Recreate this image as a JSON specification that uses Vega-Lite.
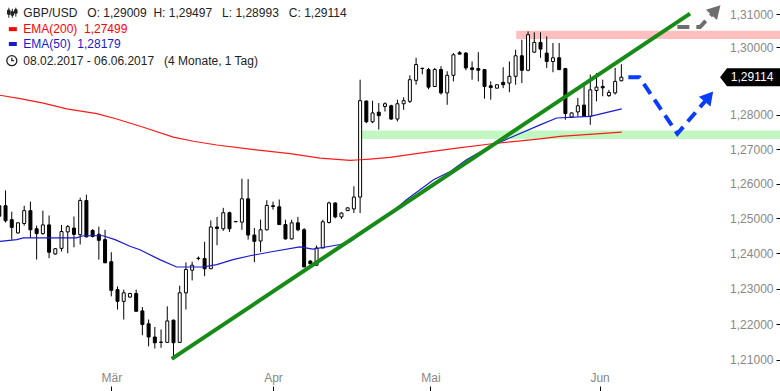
{
  "$schema": "https://vega.github.io/schema/vega-lite/v6.json",
  "width": 780,
  "height": 391,
  "padding": 0,
  "autosize": {"type": "none"},
  "background": "white",
  "config": {"view": {"stroke": null}, "font": "Liberation Sans"},
  "datasets": {
    "ohlc": [
      {"i":0,"o":1.2536,"h":1.2545,"l":1.2499,"c":1.2506},
      {"i":1,"o":1.2536,"h":1.2580,"l":1.2488,"c":1.2493},
      {"i":2,"o":1.2496,"h":1.2519,"l":1.2439,"c":1.2474},
      {"i":3,"o":1.2458,"h":1.2488,"l":1.2456,"c":1.2487},
      {"i":4,"o":1.2485,"h":1.2536,"l":1.2479,"c":1.2522},
      {"i":5,"o":1.2522,"h":1.2548,"l":1.2444,"c":1.2467},
      {"i":6,"o":1.2470,"h":1.2479,"l":1.2382,"c":1.2456},
      {"i":7,"o":1.2456,"h":1.2522,"l":1.2453,"c":1.2481},
      {"i":8,"o":1.2481,"h":1.2508,"l":1.2386,"c":1.2403},
      {"i":9,"o":1.2398,"h":1.2415,"l":1.2396,"c":1.2413},
      {"i":10,"o":1.2414,"h":1.2481,"l":1.2405,"c":1.2462},
      {"i":11,"o":1.2461,"h":1.2481,"l":1.2400,"c":1.2476},
      {"i":12,"o":1.2472,"h":1.2505,"l":1.2417,"c":1.2454},
      {"i":13,"o":1.2453,"h":1.2559,"l":1.2425,"c":1.2551},
      {"i":14,"o":1.2551,"h":1.2568,"l":1.2445,"c":1.2447},
      {"i":15,"o":1.2465,"h":1.2469,"l":1.2445,"c":1.2448},
      {"i":16,"o":1.2454,"h":1.2476,"l":1.2382,"c":1.2437},
      {"i":17,"o":1.2439,"h":1.2467,"l":1.2372,"c":1.2373},
      {"i":18,"o":1.2376,"h":1.2403,"l":1.2278,"c":1.2295},
      {"i":19,"o":1.2297,"h":1.2306,"l":1.2241,"c":1.2264},
      {"i":20,"o":1.2264,"h":1.2297,"l":1.2213,"c":1.2288},
      {"i":21,"o":1.2276,"h":1.2288,"l":1.2274,"c":1.2286},
      {"i":22,"o":1.2286,"h":1.2297,"l":1.2236,"c":1.2236},
      {"i":23,"o":1.2237,"h":1.2248,"l":1.2169,"c":1.2199},
      {"i":24,"o":1.2201,"h":1.2213,"l":1.2138,"c":1.2164},
      {"i":25,"o":1.2164,"h":1.2192,"l":1.2132,"c":1.2148},
      {"i":26,"o":1.2150,"h":1.2185,"l":1.2134,"c":1.2149},
      {"i":27,"o":1.2149,"h":1.2250,"l":1.2148,"c":1.2209},
      {"i":28,"o":1.2211,"h":1.2213,"l":1.2101,"c":1.2148},
      {"i":29,"o":1.2149,"h":1.2308,"l":1.2148,"c":1.2288},
      {"i":30,"o":1.2288,"h":1.2374,"l":1.2241,"c":1.2354},
      {"i":31,"o":1.2352,"h":1.2376,"l":1.2323,"c":1.2366},
      {"i":32,"o":1.2386,"h":1.2391,"l":1.2380,"c":1.2385},
      {"i":33,"o":1.2385,"h":1.2433,"l":1.2335,"c":1.2356},
      {"i":34,"o":1.2356,"h":1.2494,"l":1.2356,"c":1.2475},
      {"i":35,"o":1.2475,"h":1.2504,"l":1.2423,"c":1.2471},
      {"i":36,"o":1.2470,"h":1.2530,"l":1.2464,"c":1.2516},
      {"i":37,"o":1.2516,"h":1.2519,"l":1.2461,"c":1.2470},
      {"i":38,"o":1.2491,"h":1.2492,"l":1.2489,"c":1.2490},
      {"i":39,"o":1.2489,"h":1.2614,"l":1.2467,"c":1.2556},
      {"i":40,"o":1.2556,"h":1.2613,"l":1.2439,"c":1.2452},
      {"i":41,"o":1.2452,"h":1.2472,"l":1.2375,"c":1.2434},
      {"i":42,"o":1.2435,"h":1.2496,"l":1.2404,"c":1.2467},
      {"i":43,"o":1.2467,"h":1.2552,"l":1.2465,"c":1.2537},
      {"i":44,"o":1.2536,"h":1.2548,"l":1.2525,"c":1.2534},
      {"i":45,"o":1.2533,"h":1.2554,"l":1.2482,"c":1.2482},
      {"i":46,"o":1.2482,"h":1.2496,"l":1.2439,"c":1.2441},
      {"i":47,"o":1.2441,"h":1.2496,"l":1.2439,"c":1.2487},
      {"i":48,"o":1.2487,"h":1.2504,"l":1.2463,"c":1.2467},
      {"i":49,"o":1.2467,"h":1.2472,"l":1.2361,"c":1.2361},
      {"i":50,"o":1.2378,"h":1.2380,"l":1.2368,"c":1.2370},
      {"i":51,"o":1.2366,"h":1.2422,"l":1.2365,"c":1.2415},
      {"i":52,"o":1.2415,"h":1.2496,"l":1.2415,"c":1.2490},
      {"i":53,"o":1.2488,"h":1.2548,"l":1.2485,"c":1.2544},
      {"i":54,"o":1.2544,"h":1.2546,"l":1.2500,"c":1.2504},
      {"i":55,"o":1.2504,"h":1.2517,"l":1.2498,"c":1.2515},
      {"i":56,"o":1.2522,"h":1.2531,"l":1.2521,"c":1.2530},
      {"i":57,"o":1.2527,"h":1.2592,"l":1.2515,"c":1.2561},
      {"i":58,"o":1.2561,"h":1.2904,"l":1.2515,"c":1.2842},
      {"i":59,"o":1.2841,"h":1.2842,"l":1.2776,"c":1.2780},
      {"i":60,"o":1.2780,"h":1.2842,"l":1.2776,"c":1.2806},
      {"i":61,"o":1.2808,"h":1.2835,"l":1.2757,"c":1.2798},
      {"i":62,"o":1.2825,"h":1.2837,"l":1.2810,"c":1.2833},
      {"i":63,"o":1.2827,"h":1.2830,"l":1.2786,"c":1.2788},
      {"i":64,"o":1.2788,"h":1.2845,"l":1.2781,"c":1.2833},
      {"i":65,"o":1.2833,"h":1.2852,"l":1.2815,"c":1.2842},
      {"i":66,"o":1.2840,"h":1.2917,"l":1.2835,"c":1.2904},
      {"i":67,"o":1.2902,"h":1.2969,"l":1.2889,"c":1.2949},
      {"i":68,"o":1.2938,"h":1.2939,"l":1.2920,"c":1.2937},
      {"i":69,"o":1.2934,"h":1.2939,"l":1.2876,"c":1.2882},
      {"i":70,"o":1.2884,"h":1.2939,"l":1.2882,"c":1.2934},
      {"i":71,"o":1.2934,"h":1.2944,"l":1.2860,"c":1.2865},
      {"i":72,"o":1.2865,"h":1.2929,"l":1.2830,"c":1.2917},
      {"i":73,"o":1.2917,"h":1.2983,"l":1.2899,"c":1.2978},
      {"i":74,"o":1.2984,"h":1.2989,"l":1.2979,"c":1.2980},
      {"i":75,"o":1.2983,"h":1.2986,"l":1.2932,"c":1.2939},
      {"i":76,"o":1.2939,"h":1.2958,"l":1.2904,"c":1.2934},
      {"i":77,"o":1.2937,"h":1.2986,"l":1.2899,"c":1.2932},
      {"i":78,"o":1.2934,"h":1.2935,"l":1.2848,"c":1.2884},
      {"i":79,"o":1.2886,"h":1.2899,"l":1.2845,"c":1.2881},
      {"i":80,"o":1.2879,"h":1.2890,"l":1.2878,"c":1.2889},
      {"i":81,"o":1.2896,"h":1.2941,"l":1.2879,"c":1.2889},
      {"i":82,"o":1.2894,"h":1.2958,"l":1.2867,"c":1.2914},
      {"i":83,"o":1.2914,"h":1.2993,"l":1.2889,"c":1.2975},
      {"i":84,"o":1.2975,"h":1.3023,"l":1.2894,"c":1.2932},
      {"i":85,"o":1.2932,"h":1.3048,"l":1.2929,"c":1.3038},
      {"i":86,"o":1.2986,"h":1.3045,"l":1.2983,"c":1.3015},
      {"i":87,"o":1.3015,"h":1.3045,"l":1.2969,"c":1.2995},
      {"i":88,"o":1.2983,"h":1.3033,"l":1.2939,"c":1.2958},
      {"i":89,"o":1.2958,"h":1.3013,"l":1.2926,"c":1.2969},
      {"i":90,"o":1.2969,"h":1.3013,"l":1.2932,"c":1.2934},
      {"i":91,"o":1.2937,"h":1.2939,"l":1.2786,"c":1.2804},
      {"i":92,"o":1.2794,"h":1.2807,"l":1.2791,"c":1.2806},
      {"i":93,"o":1.2809,"h":1.2850,"l":1.2796,"c":1.2827},
      {"i":94,"o":1.2829,"h":1.2889,"l":1.2796,"c":1.2796},
      {"i":95,"o":1.2796,"h":1.2919,"l":1.2771,"c":1.2874},
      {"i":96,"o":1.2872,"h":1.2924,"l":1.2840,"c":1.2882},
      {"i":97,"o":1.2884,"h":1.2904,"l":1.2855,"c":1.2880},
      {"i":98,"o":1.2857,"h":1.2874,"l":1.2853,"c":1.2866},
      {"i":99,"o":1.2865,"h":1.2939,"l":1.2860,"c":1.2899},
      {"i":100,"o":1.29009,"h":1.29497,"l":1.28993,"c":1.29114}
    ],
    "ema200": [
      {"i":0.11,"p":1.2858},{"i":3.33,"p":1.2848},{"i":7.07,"p":1.2835},{"i":10.84,"p":1.2818},
      {"i":15.66,"p":1.2804},{"i":18.87,"p":1.2788},{"i":23.15,"p":1.2764},{"i":27.97,"p":1.2735},
      {"i":31.19,"p":1.2723},{"i":34.95,"p":1.2712},{"i":40.31,"p":1.2700},{"i":46.74,"p":1.2687},
      {"i":51.56,"p":1.2674},{"i":56.4,"p":1.2667},{"i":58.0,"p":1.2669},{"i":59.6,"p":1.2671},
      {"i":62.81,"p":1.2676},{"i":68.17,"p":1.2690},{"i":73.54,"p":1.2703},{"i":78.89,"p":1.2715},
      {"i":86.93,"p":1.2730},{"i":90.14,"p":1.2737},{"i":100.06,"p":1.27499}
    ],
    "ema50": [
      {"i":0.11,"p":1.2434},{"i":2.8,"p":1.2439},{"i":3.86,"p":1.2444},{"i":12.44,"p":1.2444},
      {"i":13.46,"p":1.2450},{"i":16.67,"p":1.2450},{"i":18.6,"p":1.2439},{"i":21.0,"p":1.2420},
      {"i":22.6,"p":1.2410},{"i":25.8,"p":1.2382},{"i":28.5,"p":1.2361},{"i":32.75,"p":1.2361},
      {"i":34.95,"p":1.2368},{"i":37.57,"p":1.2382},{"i":40.3,"p":1.2393},{"i":44.0,"p":1.2405},
      {"i":48.3,"p":1.2418},{"i":50.4,"p":1.2412},{"i":53.2,"p":1.2420},{"i":54.8,"p":1.2425},
      {"i":56.4,"p":1.2433},{"i":59.6,"p":1.2473},{"i":62.8,"p":1.2513},{"i":65.5,"p":1.2554},
      {"i":69.8,"p":1.2611},{"i":72.5,"p":1.2635},{"i":75.1,"p":1.2669},{"i":78.9,"p":1.2708},
      {"i":82.6,"p":1.2737},{"i":86.93,"p":1.2771},{"i":89.6,"p":1.2791},{"i":95.0,"p":1.2796},
      {"i":100.06,"p":1.28179}
    ],
    "bands": [
      {"i":83.1,"i2":126,"p":1.3025,"p2":1.3050,"kind":"resistance"},
      {"i":57.8,"i2":126,"p":1.27295,"p2":1.27547,"kind":"support"}
    ],
    "trend": [{"i":27.72,"p":1.2103},{"i":111.04,"p":1.3101}],
    "fcBlue": [{"i":101.12,"p":1.2911},{"i":102.9,"p":1.2911},{"i":109.0,"p":1.2745},{"i":113.9,"p":1.2850}],
    "fcBlueHead": [{"i":114.07,"p":1.2854}],
    "fcGrey": [{"i":109.0,"p":1.3061},{"i":112.65,"p":1.3061},{"i":115.0,"p":1.3108}],
    "fcGreyHead": [{"i":115.2,"p":1.3112}],
    "lastPrice": [{"i":120.69,"p":1.29114,"label":"1,29114"}],
    "legend": [
      {"i":3.86,"p":1.31039,"label":"GBP/USD\u00a0\u00a0 O: 1,29009\u00a0 H: 1,29497\u00a0\u00a0 L: 1,28993\u00a0\u00a0 C: 1,29114","row":"price"},
      {"i":3.86,"p":1.30546,"label":"EMA(200)\u00a0 1,27499","row":"ema200"},
      {"i":3.86,"p":1.30101,"label":"EMA(50)\u00a0 1,28179","row":"ema50"},
      {"i":3.86,"p":1.29604,"label":"08.02.2017 - 06.06.2017\u00a0\u00a0 (4 Monate, 1 Tag)","row":"range"}
    ]
  },
  "encoding": {
    "x": {
      "field": "i", "type": "quantitative",
      "scale": {"domain": [0.11, 125.5], "nice": false, "zero": false, "padding": 0},
      "axis": {
        "orient": "top", "offset": -391, "values": [18, 44, 69.3, 96.5],
        "labelExpr": "datum.value < 30 ? 'Mär' : datum.value < 60 ? 'Apr' : datum.value < 80 ? 'Mai' : 'Jun'",
        "domain": false, "grid": false, "tickSize": 5, "tickColor": "#000",
        "labelColor": "#888", "labelFontSize": 12, "labelPadding": 2, "title": null,
        "labelFlush": false, "labelOverlap": false
      }
    },
    "y": {
      "field": "p", "type": "quantitative",
      "scale": {"type": "log", "domain": [1.20142, 1.31422], "nice": false, "padding": 0},
      "axis": {
        "orient": "left", "offset": -780,
        "values": [1.21, 1.22, 1.23, 1.24, 1.25, 1.26, 1.27, 1.28, 1.30, 1.31],
        "labelExpr": "replace(format(datum.value, '.5f'), '.', ',')",
        "domain": false, "grid": false, "tickSize": 4, "tickColor": "#000",
        "labelColor": "#888", "labelFontSize": 12, "labelPadding": 3, "title": null,
        "labelOverlap": false, "labelFlush": false
      }
    }
  },
  "layer": [
    {
      "data": {"name": "bands"},
      "mark": {"type": "rect"},
      "encoding": {
        "x2": {"field": "i2"},
        "y2": {"field": "p2"},
        "fill": {"field": "kind", "type": "nominal", "scale": {"domain": ["resistance", "support"], "range": ["#ffbfbf", "#c2f7c2"]}, "legend": null}
      }
    },
    {
      "data": {"name": "ohlc"},
      "mark": {"type": "rule", "color": "#000", "strokeWidth": 1},
      "encoding": {
        "y": {
          "field": "l", "type": "quantitative",
          "scale": {"type": "log", "domain": [1.20142, 1.31422], "nice": false, "padding": 0},
          "axis": {
            "orient": "left", "offset": -780,
            "values": [1.21, 1.22, 1.23, 1.24, 1.25, 1.26, 1.27, 1.28, 1.30, 1.31],
            "labelExpr": "replace(format(datum.value, '.5f'), '.', ',')",
            "domain": false, "grid": false, "tickSize": 4, "tickColor": "#000",
            "labelColor": "#888", "labelFontSize": 12, "labelPadding": 3, "title": null,
            "labelOverlap": false, "labelFlush": false
          }
        },
        "y2": {"field": "h"}
      }
    },
    {
      "data": {"name": "ohlc"},
      "mark": {"type": "bar", "size": 3, "stroke": "#000", "strokeWidth": 1},
      "encoding": {
        "y": {
          "field": "o", "type": "quantitative",
          "scale": {"type": "log", "domain": [1.20142, 1.31422], "nice": false, "padding": 0},
          "axis": {
            "orient": "left", "offset": -780,
            "values": [1.21, 1.22, 1.23, 1.24, 1.25, 1.26, 1.27, 1.28, 1.30, 1.31],
            "labelExpr": "replace(format(datum.value, '.5f'), '.', ',')",
            "domain": false, "grid": false, "tickSize": 4, "tickColor": "#000",
            "labelColor": "#888", "labelFontSize": 12, "labelPadding": 3, "title": null,
            "labelOverlap": false, "labelFlush": false
          }
        },
        "y2": {"field": "c"},
        "fill": {"condition": {"test": "datum.c < datum.o", "value": "#000"}, "value": "#fff"}
      }
    },
    {
      "data": {"name": "ema200"},
      "mark": {"type": "line", "color": "#ff1a1a", "strokeWidth": 1.2}
    },
    {
      "data": {"name": "ema50"},
      "mark": {"type": "line", "color": "#1a1acc", "strokeWidth": 1.2}
    },
    {
      "data": {"name": "trend"},
      "mark": {"type": "line", "color": "#168c16", "strokeWidth": 4}
    },
    {
      "data": {"name": "fcBlue"},
      "mark": {"type": "line", "color": "#0a3cff", "strokeWidth": 4, "strokeDash": [12, 7]}
    },
    {
      "data": {"name": "fcBlueHead"},
      "mark": {"type": "point", "shape": "triangle-up", "angle": 40, "size": 230, "filled": true, "color": "#0a3cff", "opacity": 1}
    },
    {
      "data": {"name": "fcGrey"},
      "mark": {"type": "line", "color": "#6e6e6e", "strokeWidth": 4, "strokeDash": [12, 7]}
    },
    {
      "data": {"name": "fcGreyHead"},
      "mark": {"type": "point", "shape": "triangle-up", "angle": 43, "size": 230, "filled": true, "color": "#6e6e6e", "opacity": 1}
    },
    {
      "data": {"name": "lastPrice"},
      "mark": {"type": "point", "shape": "M-1,0L-0.77,-0.3L1,-0.3L1,0.3L-0.77,0.3Z", "size": 3600, "filled": true, "color": "#000", "opacity": 1, "strokeWidth": 0}
    },
    {
      "data": {"name": "lastPrice"},
      "mark": {"type": "text", "color": "#fff", "fontSize": 12, "align": "center", "baseline": "middle", "dx": 2},
      "encoding": {"text": {"field": "label"}}
    },
    {
      "data": {"name": "legend"},
      "mark": {"type": "text", "fontSize": 12, "align": "left", "baseline": "middle"},
      "encoding": {
        "text": {"field": "label"},
        "color": {"field": "row", "type": "nominal", "scale": {"domain": ["price", "ema200", "ema50", "range"], "range": ["#222222", "#ff0000", "#1a1acc", "#222222"]}, "legend": null}
      }
    },
    {
      "data": {"name": "legend"},
      "transform": [{"filter": "datum.row == 'ema200' || datum.row == 'ema50'"}],
      "mark": {"type": "point", "shape": "M-1,-0.5L1,-0.5L1,0.5L-1,0.5Z", "size": 64, "filled": true, "opacity": 1, "xOffset": -10.5},
      "encoding": {
        "color": {"field": "row", "type": "nominal", "legend": null}
      }
    },
    {
      "data": {"name": "legend"},
      "transform": [{"filter": "datum.row == 'price'"}],
      "mark": {"type": "point", "shape": "M-0.6,-1L-0.6,1M0.1,-0.8L0.1,1M0.8,-1L0.8,0.8M-0.85,-0.5L-0.35,-0.5L-0.35,0.3L-0.85,0.3ZM-0.15,-0.2L0.35,-0.2L0.35,0.5L-0.15,0.5ZM0.55,-0.6L1.05,-0.6L1.05,0.1L0.55,0.1Z", "size": 100, "filled": true, "fill": "#222", "stroke": "#222", "strokeWidth": 1, "opacity": 1, "xOffset": -11.5}
    },
    {
      "data": {"name": "legend"},
      "transform": [{"filter": "datum.row == 'range'"}],
      "mark": {"type": "point", "shape": "M1,0A1,1,0,1,1,-1,0A1,1,0,1,1,1,0ZM0,-0.6L0,0L0.45,0", "size": 100, "filled": false, "stroke": "#222", "strokeWidth": 1.3, "opacity": 1, "xOffset": -11.5}
    }
  ]
}
